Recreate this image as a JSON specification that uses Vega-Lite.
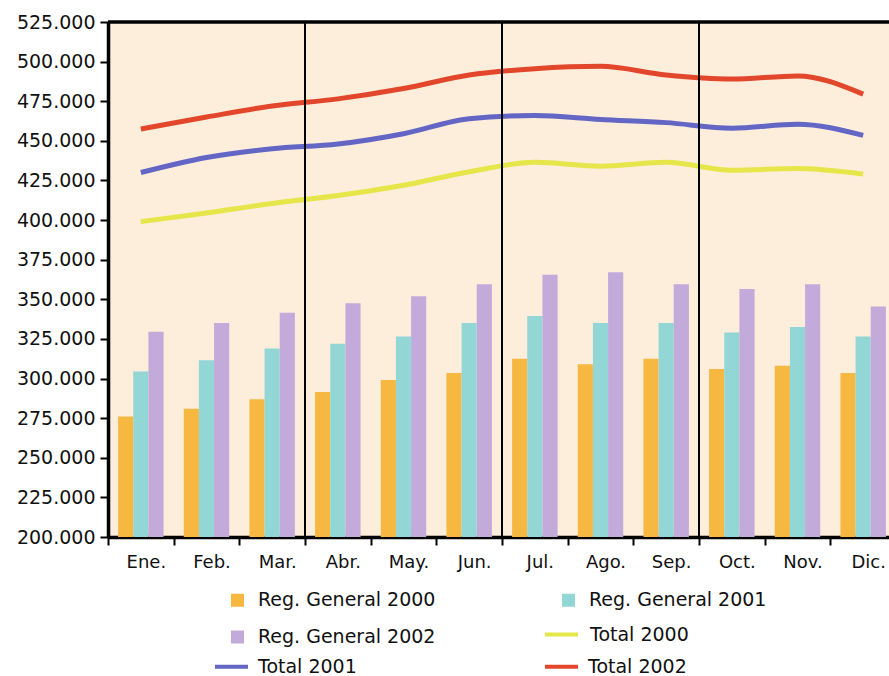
{
  "$schema": "https://vega.github.io/schema/vega-lite/v6.json",
  "autosize": {"type": "none"},
  "padding": {"left": 108, "top": 22, "right": 0, "bottom": 139},
  "width": 781,
  "height": 515,
  "background": "#ffffff",
  "config": {
    "view": {"stroke": null, "fill": "#FDEDDB"},
    "font": "DejaVu Sans",
    "axis": {"grid": false, "title": null},
    "axisY": {
      "domainColor": "#000000", "domainWidth": 3.5,
      "tickColor": "#000000", "tickWidth": 2, "tickSize": 8,
      "labelFont": "DejaVu Sans", "labelFontSize": 19, "labelColor": "#111111",
      "labelPadding": 5, "labelOverlap": false
    },
    "axisX": {
      "labelAngle": 0, "tickBand": "extent",
      "domainColor": "#000000", "domainWidth": 3.5,
      "tickColor": "#000000", "tickWidth": 2, "tickSize": 8,
      "labelFont": "DejaVu Sans", "labelFontSize": 18, "labelColor": "#111111",
      "labelPadding": 8, "labelOffset": 5
    },
    "legend": {
      "title": null, "orient": "none", "padding": 0,
      "labelFont": "DejaVu Sans", "labelFontSize": 19, "labelColor": "#111111",
      "labelLimit": 400
    }
  },
  "datasets": {
    "main": [
      {"month": "Ene.", "series": "Reg. General 2000", "value": 276000},
      {"month": "Ene.", "series": "Reg. General 2001", "value": 304500},
      {"month": "Ene.", "series": "Reg. General 2002", "value": 329500},
      {"month": "Feb.", "series": "Reg. General 2000", "value": 281000},
      {"month": "Feb.", "series": "Reg. General 2001", "value": 311500},
      {"month": "Feb.", "series": "Reg. General 2002", "value": 335000},
      {"month": "Mar.", "series": "Reg. General 2000", "value": 287000},
      {"month": "Mar.", "series": "Reg. General 2001", "value": 319000},
      {"month": "Mar.", "series": "Reg. General 2002", "value": 341500},
      {"month": "Abr.", "series": "Reg. General 2000", "value": 291500},
      {"month": "Abr.", "series": "Reg. General 2001", "value": 322000},
      {"month": "Abr.", "series": "Reg. General 2002", "value": 347500},
      {"month": "May.", "series": "Reg. General 2000", "value": 299000},
      {"month": "May.", "series": "Reg. General 2001", "value": 326500},
      {"month": "May.", "series": "Reg. General 2002", "value": 352000},
      {"month": "Jun.", "series": "Reg. General 2000", "value": 303500},
      {"month": "Jun.", "series": "Reg. General 2001", "value": 335000},
      {"month": "Jun.", "series": "Reg. General 2002", "value": 359500},
      {"month": "Jul.", "series": "Reg. General 2000", "value": 312500},
      {"month": "Jul.", "series": "Reg. General 2001", "value": 339500},
      {"month": "Jul.", "series": "Reg. General 2002", "value": 365500},
      {"month": "Ago.", "series": "Reg. General 2000", "value": 309000},
      {"month": "Ago.", "series": "Reg. General 2001", "value": 335000},
      {"month": "Ago.", "series": "Reg. General 2002", "value": 367000},
      {"month": "Sep.", "series": "Reg. General 2000", "value": 312500},
      {"month": "Sep.", "series": "Reg. General 2001", "value": 335000},
      {"month": "Sep.", "series": "Reg. General 2002", "value": 359500},
      {"month": "Oct.", "series": "Reg. General 2000", "value": 306000},
      {"month": "Oct.", "series": "Reg. General 2001", "value": 329000},
      {"month": "Oct.", "series": "Reg. General 2002", "value": 356500},
      {"month": "Nov.", "series": "Reg. General 2000", "value": 308000},
      {"month": "Nov.", "series": "Reg. General 2001", "value": 332500},
      {"month": "Nov.", "series": "Reg. General 2002", "value": 359500},
      {"month": "Dic.", "series": "Reg. General 2000", "value": 303500},
      {"month": "Dic.", "series": "Reg. General 2001", "value": 326500},
      {"month": "Dic.", "series": "Reg. General 2002", "value": 345500},
      {"month": "Ene.", "series": "Total 2000", "value": 399000},
      {"month": "Ene.", "series": "Total 2001", "value": 430000},
      {"month": "Ene.", "series": "Total 2002", "value": 457500},
      {"month": "Feb.", "series": "Total 2000", "value": 404500},
      {"month": "Feb.", "series": "Total 2001", "value": 439500},
      {"month": "Feb.", "series": "Total 2002", "value": 465000},
      {"month": "Mar.", "series": "Total 2000", "value": 410500},
      {"month": "Mar.", "series": "Total 2001", "value": 445000},
      {"month": "Mar.", "series": "Total 2002", "value": 472000},
      {"month": "Abr.", "series": "Total 2000", "value": 415500},
      {"month": "Abr.", "series": "Total 2001", "value": 448000},
      {"month": "Abr.", "series": "Total 2002", "value": 476500},
      {"month": "May.", "series": "Total 2000", "value": 422000},
      {"month": "May.", "series": "Total 2001", "value": 454500},
      {"month": "May.", "series": "Total 2002", "value": 483000},
      {"month": "Jun.", "series": "Total 2000", "value": 430500},
      {"month": "Jun.", "series": "Total 2001", "value": 464000},
      {"month": "Jun.", "series": "Total 2002", "value": 491500},
      {"month": "Jul.", "series": "Total 2000", "value": 436500},
      {"month": "Jul.", "series": "Total 2001", "value": 466000},
      {"month": "Jul.", "series": "Total 2002", "value": 495500},
      {"month": "Ago.", "series": "Total 2000", "value": 434000},
      {"month": "Ago.", "series": "Total 2001", "value": 463500},
      {"month": "Ago.", "series": "Total 2002", "value": 497000},
      {"month": "Sep.", "series": "Total 2000", "value": 436500},
      {"month": "Sep.", "series": "Total 2001", "value": 461500},
      {"month": "Sep.", "series": "Total 2002", "value": 491500},
      {"month": "Oct.", "series": "Total 2000", "value": 431500},
      {"month": "Oct.", "series": "Total 2001", "value": 458000},
      {"month": "Oct.", "series": "Total 2002", "value": 489000},
      {"month": "Nov.", "series": "Total 2000", "value": 432500},
      {"month": "Nov.", "series": "Total 2001", "value": 460500},
      {"month": "Nov.", "series": "Total 2002", "value": 491000},
      {"month": "Dic.", "series": "Total 2000", "value": 429000},
      {"month": "Dic.", "series": "Total 2001", "value": 453500},
      {"month": "Dic.", "series": "Total 2002", "value": 479500}
    ],
    "quarters": [{"month": "Abr."}, {"month": "Jul."}, {"month": "Oct."}],
    "top": [{"value": 525000}]
  },
  "resolve": {"scale": {"stroke": "independent"}, "legend": {"stroke": "independent"}},
  "layer": [
    {
      "data": {"name": "main"},
      "transform": [{"filter": "indexof(datum.series, 'Reg.') === 0"}],
      "mark": {"type": "bar", "clip": true},
      "encoding": {
        "x": {
          "field": "month", "type": "nominal", "title": null,
          "scale": {
            "domain": ["Ene.", "Feb.", "Mar.", "Abr.", "May.", "Jun.", "Jul.", "Ago.", "Sep.", "Oct.", "Nov.", "Dic."],
            "range": [0, 788], "paddingInner": 0, "paddingOuter": 0
          }
        },
        "xOffset": {
          "field": "series", "type": "nominal",
          "scale": {"domain": ["Reg. General 2000", "Reg. General 2001", "Reg. General 2002"], "paddingInner": 0, "paddingOuter": 0.667}
        },
        "y": {
          "field": "value", "type": "quantitative", "title": null,
          "scale": {"domain": [200000, 525000], "nice": false, "zero": false},
          "axis": {
            "values": [200000, 225000, 250000, 275000, 300000, 325000, 350000, 375000, 400000, 425000, 450000, 475000, 500000, 525000],
            "tickCount": 14,
            "labelExpr": "replace(format(datum.value, ','), ',', '.')"
          }
        },
        "fill": {
          "field": "series", "type": "nominal",
          "scale": {
            "domain": ["Reg. General 2000", "Reg. General 2001", "Reg. General 2002"],
            "range": ["#F6B840", "#92D6D6", "#C2AADA"]
          },
          "legend": {
            "legendX": 120, "legendY": 568.5,
            "direction": "horizontal", "columns": 2,
            "columnPadding": 123, "rowPadding": 17,
            "symbolType": "square", "symbolSize": 169, "symbolStrokeWidth": 0,
            "labelOffset": 11
          }
        }
      }
    },
    {
      "data": {"name": "main"},
      "transform": [{"filter": "datum.series === 'Total 2000'"}],
      "mark": {"type": "line", "strokeWidth": 5, "interpolate": "monotone"},
      "encoding": {
        "x": {"field": "month", "type": "nominal", "title": null},
        "y": {
          "field": "value", "type": "quantitative", "title": null,
          "axis": {
            "values": [200000, 225000, 250000, 275000, 300000, 325000, 350000, 375000, 400000, 425000, 450000, 475000, 500000, 525000],
            "tickCount": 14,
            "labelExpr": "replace(format(datum.value, ','), ',', '.')"
          }
        },
        "stroke": {
          "field": "series", "type": "nominal",
          "scale": {"domain": ["Total 2000"], "range": ["#E6E64A"]},
          "legend": {
            "legendX": 435, "legendY": 594,
            "symbolType": "stroke", "symbolSize": 1089, "symbolStrokeWidth": 4,
            "labelOffset": 10
          }
        }
      }
    },
    {
      "data": {"name": "main"},
      "transform": [{"filter": "datum.series === 'Total 2001' || datum.series === 'Total 2002'"}],
      "mark": {"type": "line", "strokeWidth": 5, "interpolate": "monotone"},
      "encoding": {
        "x": {"field": "month", "type": "nominal", "title": null},
        "y": {
          "field": "value", "type": "quantitative", "title": null,
          "axis": {
            "values": [200000, 225000, 250000, 275000, 300000, 325000, 350000, 375000, 400000, 425000, 450000, 475000, 500000, 525000],
            "tickCount": 14,
            "labelExpr": "replace(format(datum.value, ','), ',', '.')"
          }
        },
        "stroke": {
          "field": "series", "type": "nominal",
          "scale": {"domain": ["Total 2001", "Total 2002"], "range": ["#6466C6", "#E2472B"]},
          "legend": {
            "legendX": 105, "legendY": 626,
            "direction": "horizontal", "columns": 2, "columnPadding": 180,
            "symbolType": "stroke", "symbolSize": 1089, "symbolStrokeWidth": 4,
            "labelOffset": 8
          }
        }
      }
    },
    {
      "data": {"name": "quarters"},
      "mark": {"type": "rule", "color": "#000000", "strokeWidth": 2},
      "encoding": {
        "x": {"field": "month", "type": "nominal", "bandPosition": 0, "title": null}
      }
    },
    {
      "data": {"name": "top"},
      "mark": {"type": "rule", "color": "#000000", "strokeWidth": 3.5},
      "encoding": {
        "y": {
          "field": "value", "type": "quantitative", "title": null,
          "axis": {
            "values": [200000, 225000, 250000, 275000, 300000, 325000, 350000, 375000, 400000, 425000, 450000, 475000, 500000, 525000],
            "tickCount": 14,
            "labelExpr": "replace(format(datum.value, ','), ',', '.')"
          }
        }
      }
    }
  ]
}
